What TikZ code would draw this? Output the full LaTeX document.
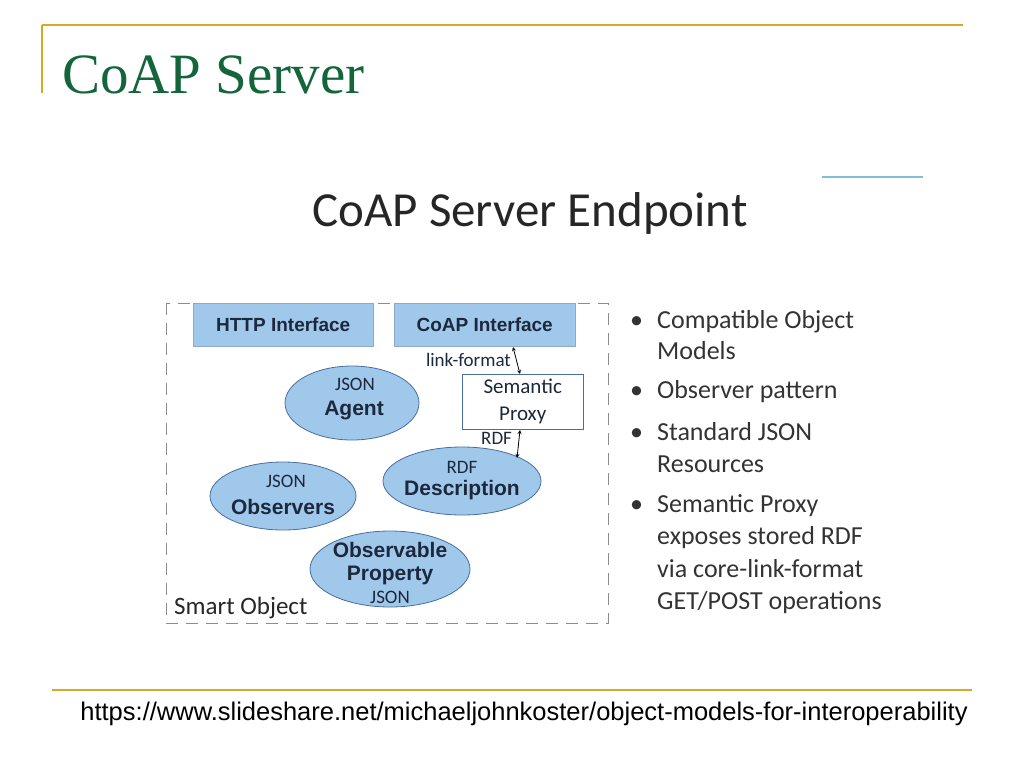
\documentclass[tikz,border=0pt]{standalone}
\usepackage{fontspec}
\setmainfont{Liberation Serif}
\newfontfamily\calib{Carlito}
\newfontfamily\arial{Liberation Sans}
\usetikzlibrary{positioning}
\usetikzlibrary{shapes.geometric}
\definecolor{goldline}{RGB}{214,168,40}
\definecolor{titlegreen}{RGB}{20,100,60}
\definecolor{boxblue}{RGB}{160,200,235}
\definecolor{edgeblue}{RGB}{70,110,160}
\definecolor{skyline}{RGB}{130,190,220}
\definecolor{inktext}{RGB}{30,40,60}
\tikzset{
  iface/.style={draw=edgeblue!60,fill=boxblue,minimum width=180pt,minimum height=43pt,anchor=north west,inner sep=0pt},
  blob/.style={ellipse,draw=edgeblue,fill=boxblue,thick,inner sep=0pt,align=center,text=inktext},
  bullet/.style={anchor=base west,font=\calib\fontsize{26}{30}\selectfont,text=black!80,inner sep=0pt},
  tiny/.style={font=\calib\fontsize{19}{22}\selectfont,text=inktext,inner sep=0pt},
  big/.style={font=\arial\bfseries\fontsize{21}{23}\selectfont,text=inktext,inner sep=0pt}
}
\begin{document}
\begin{tikzpicture}[x=1pt,y=-1pt]
  \useasboundingbox (0,0) rectangle (1024,768);
  % frame lines
  \draw[goldline,line width=1.5pt] (42,25) -- (963,25);
  \draw[goldline,line width=1.5pt] (42,25) -- (42,93);
  \draw[goldline,line width=1.5pt] (52,690) -- (972,690);
  \draw[skyline,line width=2.5pt] (822,177) -- (923,177);
  \node (title)[anchor=base west,text=titlegreen,font=\fontsize{57}{60}\selectfont,inner sep=0pt] at (62,93) {CoAP Server};
  \node (head)[anchor=base,font=\calib\fontsize{49}{54}\selectfont,text=black!85,inner sep=0pt] at (530,226) {CoAP Server Endpoint};
  % smart object boundary
  \draw[black!45,thick,dash pattern=on 12pt off 8pt] (166,303) rectangle (608,623);
  \node (http)[iface] at (193,303) {};
  \node[big,font=\arial\bfseries\fontsize{19}{22}\selectfont] at (http.center) {HTTP Interface};
  \node (coap)[iface,minimum width=181pt] at (394,303) {};
  \node[big,font=\arial\bfseries\fontsize{19}{22}\selectfont] at (coap.center) {CoAP Interface};
  \node (proxy)[draw=edgeblue,fill=white,minimum width=121pt,minimum height=55pt,anchor=north west,inner sep=0pt] at (462,374) {};
  \node[tiny,align=center,font=\calib\fontsize{21}{27}\selectfont] at (proxy.center) {Semantic\\Proxy};
  \node (agent)[blob,minimum width=134pt,minimum height=74pt] at (352,403) {};
  \node[tiny] at (355,384) {JSON};
  \node[big] at (354,410) {Agent};
  \node (obs)[blob,minimum width=146pt,minimum height=68pt] at (283,496) {};
  \node[tiny] at (286,481) {JSON};
  \node[big] at (283,507) {Observers};
  \node (rdf)[blob,minimum width=158pt,minimum height=68pt] at (462,481) {};
  \node[tiny] at (462,467) {RDF};
  \node[big] at (462,490) {Description};
  \node (prop)[blob,minimum width=160pt,minimum height=76pt] at (390,569) {};
  \node[big,align=center] at (390,564) {Observable\\Property};
  \node[tiny] at (390,597) {JSON};
  \coordinate (lf1) at (513,347);
  \coordinate (lf2) at (520,374);
  \draw[<->,thick,>=stealth] (lf1) -- (lf2);
  \node[tiny,anchor=east] at (511,360) {link-format};
  \coordinate (rd1) at (520,430);
  \coordinate (rd2) at (517,458);
  \draw[<->,thick,>=stealth] (rd1) -- (rd2);
  \node[tiny,anchor=west] at (481,438) {RDF};
  \node[anchor=west,inner sep=0pt,font=\calib\fontsize{25}{28}\selectfont,text=black!85] at (174,608) {Smart Object};
  % bullets
  \foreach \yy in {328,398,440,512}
    \node[bullet] at (630,\yy) {\textbullet};
  \foreach \yy/\txt in {328/Compatible Object,359/Models,398/Observer pattern,440/Standard JSON,472/Resources,512/Semantic Proxy,544/exposes stored RDF,577/via core-link-format,609/{GET/POST operations}}
    \node[bullet] at (657,\yy) {\txt};
  \node (src)[anchor=base,font=\arial\fontsize{25.5}{28}\selectfont,inner sep=0pt] at (524,720) {https://www.slideshare.net/michaeljohnkoster/object-models-for-interoperability};
\end{tikzpicture}
\end{document}
